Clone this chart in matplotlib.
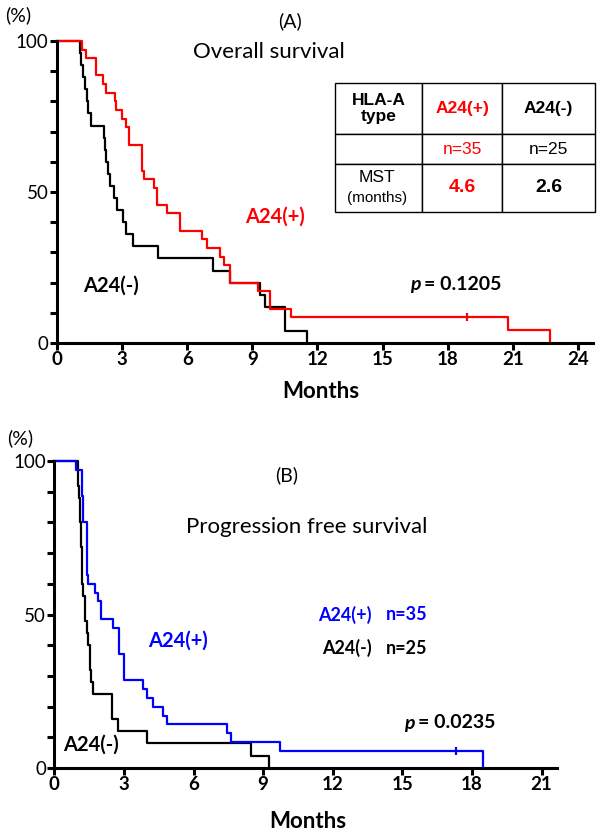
import matplotlib
matplotlib.use("Agg")
import matplotlib.pyplot as plt
from matplotlib.ticker import FixedLocator, FuncFormatter

plt.rcParams["font.family"] = ["Lato", "DejaVu Sans"]

# (A) overall survival (months, % surviving)
os_pos_t = [0, 1.14, 1.34, 1.8, 2.1, 2.26, 2.67, 2.72, 2.98, 3.18, 3.33, 3.9, 4.0,
            4.47, 4.59, 5.05, 5.67, 6.67, 6.9, 7.5, 7.7, 7.97, 9.28, 9.8, 10.8, 20.8, 22.7]
os_pos_s = [100, 97.1, 94.3, 88.6, 85.7, 82.9, 80, 77.1, 74.3, 71.4, 65.7, 57.1, 54.3,
            51.4, 45.7, 42.9, 37.1, 34.3, 31.4, 28.6, 25.7, 20, 17.1, 11.4, 8.6, 4.3, 0]
os_pos_cens = [(18.9, 8.6)]
os_neg_t = [0, 1.05, 1.1, 1.2, 1.3, 1.4, 1.45, 1.55, 2.17, 2.22, 2.28, 2.35, 2.44,
            2.62, 2.78, 3.02, 3.2, 3.5, 4.67, 7.2, 7.97, 9.35, 9.6, 10.5, 11.5]
os_neg_s = [100, 96, 92, 88, 84, 80, 76, 72, 68, 64, 60, 56, 52,
            48, 44, 40, 36, 32, 28, 24, 20, 16, 12, 4, 0]

# (B) progression free survival
pfs_pos_t = [0, 0.94, 1.18, 1.22, 1.42, 1.46, 1.75, 1.9, 2.0, 2.54, 2.79, 3.0, 3.84,
             3.98, 4.24, 4.7, 4.87, 7.43, 7.62, 9.73, 18.46]
pfs_pos_s = [100, 97.1, 88.6, 80, 62.9, 60, 57.1, 54.3, 48.6, 45.7, 37.1, 28.6, 25.7,
             22.9, 20, 17.1, 14.3, 11.4, 8.6, 5.7, 0]
pfs_pos_cens = [(17.3, 5.7)]
pfs_neg_t = [0, 1.0, 1.03, 1.06, 1.1, 1.14, 1.18, 1.25, 1.32, 1.4, 1.47, 1.52, 1.58,
             1.68, 2.47, 2.76, 3.98, 8.47, 9.27]
pfs_neg_s = [100, 96, 92, 88, 80, 72, 60, 56, 48, 44, 40, 32, 28,
             24, 16, 12, 8, 4, 0]

table_rows = [["HLA-A\ntype", "A24(+)", "A24(-)"],
              ["", "n=35", "n=25"],
              ["", "4.6", "2.6"]]

W, H = 600, 836
fig = plt.figure(figsize=(6, 8.36), dpi=100)


def px(x, y):
    return x / W, 1 - y / H


def style_axes(ax, xmax, xticks):
    ax.set_xlim(0, xmax)
    ax.set_ylim(0, 100)
    for s in ["top", "right"]:
        ax.spines[s].set_visible(False)
    for s in ["left", "bottom"]:
        ax.spines[s].set_linewidth(2.2)
    ax.yaxis.set_major_locator(FixedLocator(range(0, 101, 10)))
    ax.yaxis.set_major_formatter(
        FuncFormatter(lambda v, p: f"{int(v)}" if v in (0, 50, 100) else ""))
    ax.xaxis.set_major_locator(FixedLocator(xticks))
    ax.tick_params(axis="both", direction="out", length=5, width=2.2, labelsize=13.5, pad=1)
    for lab in ax.get_xticklabels():
        lab.set_fontweight("bold")


# ---- panel A
ax1 = fig.add_axes([57 / W, 1 - 343 / H, 536 / W, 302 / H])
ax1.step(os_neg_t, os_neg_s, where="post", color="black", lw=1.6, clip_on=False)
ax1.step(os_pos_t, os_pos_s, where="post", color="red", lw=1.6, clip_on=False)
for cx, cy in os_pos_cens:
    ax1.plot(cx, cy, marker="|", color="red", ms=6, mew=1.6)
style_axes(ax1, 24.7, range(0, 25, 3))

fig.text(*px(5, 15), "(%)", fontsize=14, va="center")
fig.text(*px(290, 21), "(A)", fontsize=14, ha="center", va="center")
fig.text(*px(193, 52), "Overall survival", fontsize=16, va="center")
fig.text(*px(245, 217), "A24(+)", fontsize=14.5, fontweight="bold", color="red", va="center")
fig.text(*px(83, 286), "A24(-)", fontsize=14.5, fontweight="bold", va="center")
fig.text(*px(410, 285), "p", fontsize=14, fontweight="bold", style="italic", va="center")
fig.text(*px(424, 285), "= 0.1205", fontsize=14, fontweight="bold", va="center")
fig.text(*px(321, 391), "Months", fontsize=16, fontweight="bold", ha="center", va="center")

tab = ax1.table(cellText=table_rows, colWidths=[87, 80, 93],
                bbox=[(335 - 57) / 536, (343 - 212) / 302, 260 / 536, 129 / 302],
                cellLoc="center")
tab.auto_set_font_size(False)
row_h = [51, 30, 48]
cells = tab.get_celld()
for (r, c), cell in cells.items():
    cell.set_height(row_h[r])
    cell.set_linewidth(1.0)
    txt = cell.get_text()
    txt.set_fontfamily(["Liberation Sans", "DejaVu Sans"])
    txt.set_fontsize(12.5)
    if r != 1:
        txt.set_fontweight("bold")
    if c == 1:
        txt.set_color("red")
cells[(0, 0)].get_text().set_linespacing(1.1)
cells[(2, 1)].get_text().set_fontsize(14)
cells[(2, 2)].get_text().set_fontsize(14)
fig.text(*px(377, 177), "MST", fontsize=12.5, family=["Liberation Sans", "DejaVu Sans"],
         ha="center", va="center")
fig.text(*px(377, 198), "(months)", fontsize=11, family=["Liberation Sans", "DejaVu Sans"],
         ha="center", va="center")

# ---- panel B
ax2 = fig.add_axes([54.3 / W, 1 - 768 / H, 502.4 / W, 307 / H])
ax2.step(pfs_neg_t, pfs_neg_s, where="post", color="black", lw=1.6, clip_on=False)
ax2.step(pfs_pos_t, pfs_pos_s, where="post", color="#0000ff", lw=1.6, clip_on=False)
for cx, cy in pfs_pos_cens:
    ax2.plot(cx, cy, marker="|", color="#0000ff", ms=6, mew=1.6)
style_axes(ax2, 21.65, range(0, 22, 3))

fig.text(*px(7, 438), "(%)", fontsize=14, va="center")
fig.text(*px(287, 475), "(B)", fontsize=14, ha="center", va="center")
fig.text(*px(186, 527), "Progression free survival", fontsize=16, va="center")
fig.text(*px(148, 641), "A24(+)", fontsize=14.5, fontweight="bold", color="#0000ff", va="center")
fig.text(*px(63, 745), "A24(-)", fontsize=14.5, fontweight="bold", va="center")
fig.text(*px(318, 615), "A24(+)", fontsize=13, fontweight="bold", color="#0000ff", va="center")
fig.text(*px(386, 615), "n=35", fontsize=13, fontweight="bold", color="#0000ff", va="center")
fig.text(*px(372, 648), "A24(-)", fontsize=13, fontweight="bold", ha="right", va="center")
fig.text(*px(386, 648), "n=25", fontsize=13, fontweight="bold", va="center")
fig.text(*px(404, 723), "p", fontsize=14, fontweight="bold", style="italic", va="center")
fig.text(*px(418, 723), "= 0.0235", fontsize=14, fontweight="bold", va="center")
fig.text(*px(308, 822), "Months", fontsize=16, fontweight="bold", ha="center", va="center")

fig.savefig("out.png", dpi=100)
